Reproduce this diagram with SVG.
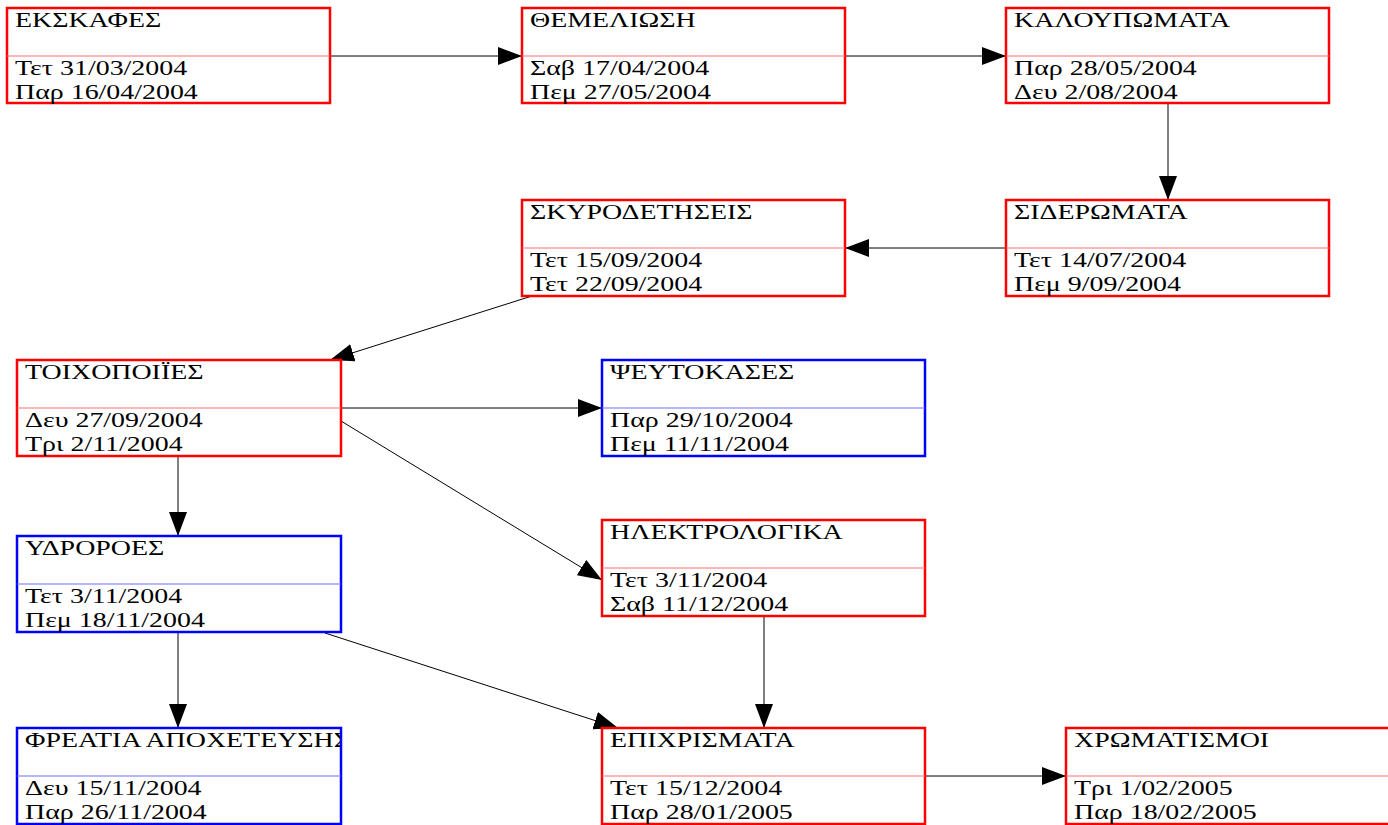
<svg xmlns="http://www.w3.org/2000/svg" width="1388" height="825" viewBox="0 0 1388 825">
<style>
.box{fill:#fff;stroke-width:2.5}
.r{stroke:#ff0000}
.b{stroke:#0000ff}
.dr{stroke:#ff7070;stroke-width:1.2}
.db{stroke:#7070ff;stroke-width:1.2}
.t{font-family:"Liberation Serif","Times New Roman",serif;font-size:21px;fill:#000}
.e{stroke:#000;stroke-width:1;fill:none;marker-end:url(#ah)}
</style>
<defs>
<marker id="ah" viewBox="0 0 24 18" refX="24" refY="9" markerWidth="24" markerHeight="18" markerUnits="userSpaceOnUse" orient="auto">
<path d="M0,0 L24,9 L0,18 Z" fill="#000"/>
</marker>
<clipPath id="cf"><rect x="17" y="728" width="323" height="97"/></clipPath>
</defs>
<rect width="1388" height="825" fill="#fff"/>
<g id="connectors">
<line class="e" x1="330" y1="56" x2="522" y2="56"/>
<line class="e" x1="845" y1="56" x2="1006" y2="56"/>
<line class="e" x1="1168" y1="103" x2="1168" y2="200"/>
<line class="e" x1="1006" y1="248" x2="845" y2="248"/>
<line class="e" x1="532" y1="296" x2="330" y2="360"/>
<line class="e" x1="341" y1="408" x2="602" y2="408"/>
<line class="e" x1="341" y1="421" x2="602" y2="580"/>
<line class="e" x1="178" y1="456" x2="178" y2="536"/>
<line class="e" x1="178" y1="632" x2="178" y2="728"/>
<line class="e" x1="325" y1="633" x2="618" y2="728"/>
<line class="e" x1="764" y1="616" x2="764" y2="728"/>
<line class="e" x1="925" y1="776" x2="1066" y2="776"/>
</g>
<g id="n1">
<rect class="box r" x="7" y="8" width="323" height="95"/><line class="dr" x1="7" y1="56" x2="330" y2="56"/>
<g transform="translate(15,8) scale(1.33,1)"><text class="t" y="19">ΕΚΣΚΑΦΕΣ</text><text class="t" y="67">Τετ 31/03/2004</text><text class="t" y="91">Παρ 16/04/2004</text></g>
</g>
<g id="n2">
<rect class="box r" x="522" y="8" width="323" height="95"/><line class="dr" x1="522" y1="56" x2="845" y2="56"/>
<g transform="translate(530,8) scale(1.33,1)"><text class="t" y="19">ΘΕΜΕΛΙΩΣΗ</text><text class="t" y="67">Σαβ 17/04/2004</text><text class="t" y="91">Πεμ 27/05/2004</text></g>
</g>
<g id="n3">
<rect class="box r" x="1006" y="8" width="323" height="95"/><line class="dr" x1="1006" y1="56" x2="1329" y2="56"/>
<g transform="translate(1014,8) scale(1.33,1)"><text class="t" y="19">ΚΑΛΟΥΠΩΜΑΤΑ</text><text class="t" y="67">Παρ 28/05/2004</text><text class="t" y="91">Δευ 2/08/2004</text></g>
</g>
<g id="n4">
<rect class="box r" x="1006" y="200" width="323" height="96"/><line class="dr" x1="1006" y1="248" x2="1329" y2="248"/>
<g transform="translate(1014,200) scale(1.33,1)"><text class="t" y="19">ΣΙΔΕΡΩΜΑΤΑ</text><text class="t" y="67">Τετ 14/07/2004</text><text class="t" y="91">Πεμ 9/09/2004</text></g>
</g>
<g id="n5">
<rect class="box r" x="522" y="200" width="323" height="96"/><line class="dr" x1="522" y1="248" x2="845" y2="248"/>
<g transform="translate(530,200) scale(1.33,1)"><text class="t" y="19">ΣΚΥΡΟΔΕΤΗΣΕΙΣ</text><text class="t" y="67">Τετ 15/09/2004</text><text class="t" y="91">Τετ 22/09/2004</text></g>
</g>
<g id="n6">
<rect class="box r" x="17" y="360" width="324" height="96"/><line class="dr" x1="17" y1="408" x2="341" y2="408"/>
<g transform="translate(25,360) scale(1.33,1)"><text class="t" y="19">ΤΟΙΧΟΠΟΙΪΕΣ</text><text class="t" y="67">Δευ 27/09/2004</text><text class="t" y="91">Τρι 2/11/2004</text></g>
</g>
<g id="n7">
<rect class="box b" x="602" y="360" width="323" height="96"/><line class="db" x1="602" y1="408" x2="925" y2="408"/>
<g transform="translate(610,360) scale(1.33,1)"><text class="t" y="19">ΨΕΥΤΟΚΑΣΕΣ</text><text class="t" y="67">Παρ 29/10/2004</text><text class="t" y="91">Πεμ 11/11/2004</text></g>
</g>
<g id="n8">
<rect class="box r" x="602" y="520" width="323" height="96"/><line class="dr" x1="602" y1="568" x2="925" y2="568"/>
<g transform="translate(610,520) scale(1.33,1)"><text class="t" y="19">ΗΛΕΚΤΡΟΛΟΓΙΚΑ</text><text class="t" y="67">Τετ 3/11/2004</text><text class="t" y="91">Σαβ 11/12/2004</text></g>
</g>
<g id="n9">
<rect class="box b" x="17" y="536" width="324" height="96"/><line class="db" x1="17" y1="584" x2="341" y2="584"/>
<g transform="translate(25,536) scale(1.33,1)"><text class="t" y="19">ΥΔΡΟΡΟΕΣ</text><text class="t" y="67">Τετ 3/11/2004</text><text class="t" y="91">Πεμ 18/11/2004</text></g>
</g>
<g id="n10">
<rect class="box b" x="17" y="728" width="324" height="96"/><line class="db" x1="17" y1="776" x2="341" y2="776"/>
<g clip-path="url(#cf)"><g transform="translate(25,728) scale(1.33,1)"><text class="t" y="19">ΦΡΕΑΤΙΑ ΑΠΟΧΕΤΕΥΣΗΣ</text><text class="t" y="67">Δευ 15/11/2004</text><text class="t" y="91">Παρ 26/11/2004</text></g></g>
</g>
<g id="n11">
<rect class="box r" x="602" y="728" width="323" height="96"/><line class="dr" x1="602" y1="776" x2="925" y2="776"/>
<g transform="translate(610,728) scale(1.33,1)"><text class="t" y="19">ΕΠΙΧΡΙΣΜΑΤΑ</text><text class="t" y="67">Τετ 15/12/2004</text><text class="t" y="91">Παρ 28/01/2005</text></g>
</g>
<g id="n12">
<rect class="box r" x="1066" y="728" width="324" height="96"/><line class="dr" x1="1066" y1="776" x2="1390" y2="776"/>
<g transform="translate(1074,728) scale(1.33,1)"><text class="t" y="19">ΧΡΩΜΑΤΙΣΜΟΙ</text><text class="t" y="67">Τρι 1/02/2005</text><text class="t" y="91">Παρ 18/02/2005</text></g>
</g>
</svg>
